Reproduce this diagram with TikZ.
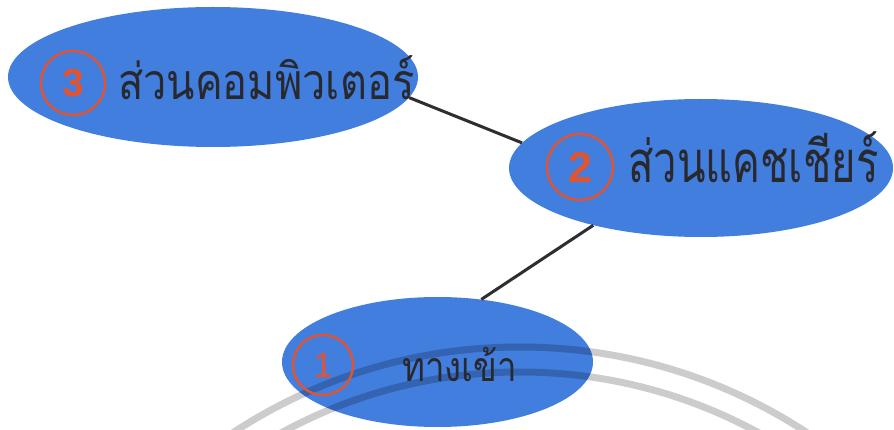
\documentclass[tikz,border=0pt]{standalone}
\usepackage{fontspec}
\usepackage{graphicx}
\newfontfamily\thaifont[Script=Thai]{Loma}
\newfontfamily\numfont{Liberation Sans}
\usetikzlibrary{shapes.geometric}
\definecolor{ellblue}{RGB}{66,126,222}
\definecolor{numred}{RGB}{226,84,48}
\definecolor{txtdark}{RGB}{40,40,45}
\definecolor{linedark}{RGB}{45,45,50}
\begin{document}
\begin{tikzpicture}[x=1pt,y=-1pt,
  blob/.style={ellipse, fill=ellblue, draw=none, inner sep=0pt},
  numcirc/.style={circle, draw=numred, line width=2.4pt, inner sep=0pt, text=numred},
  thaitext/.style={text=txtdark, inner sep=0pt, anchor=base west},
  link/.style={draw=linedark, line width=3pt},
  sealring/.style={draw=black, opacity=0.2, line width=7pt}]
\useasboundingbox[fill=white] (0,0) rectangle (894,430);
\node[blob, minimum width=410pt, minimum height=140pt] (e3) at (213,77) {};
\node[blob, minimum width=384pt, minimum height=138pt] (e2) at (701,168) {};
\node[blob, minimum width=311pt, minimum height=130pt] (e1) at (437.5,362) {};
\draw[link] (e3.-6) -- (e2.172);
\draw[link] (e2.208.7) -- (e1.55.6);
\coordinate (seal) at (520,870);
\begin{scope}
  \clip (0,0) rectangle (894,430);
  \draw[sealring] (seal) circle[radius=523pt];
  \draw[sealring] (seal) circle[radius=498pt];
\end{scope}
\node[numcirc, minimum size=64pt, font=\numfont\bfseries\fontsize{39}{39}\selectfont] (n3) at (73,83) {3};
\node[numcirc, minimum size=66pt, font=\numfont\bfseries\fontsize{43}{43}\selectfont] (n2) at (580,167) {2};
\node[numcirc, minimum size=60pt, font=\numfont\fontsize{35}{35}\selectfont] (n1) at (323,365) {1};
\node[thaitext, font=\thaifont\fontsize{50}{50}\selectfont] (t3) at (118,100) {\scalebox{0.83}[1]{ส่วนคอมพิวเตอร์}};
\node[thaitext, font=\thaifont\fontsize{58}{58}\selectfont] (t2) at (628,183) {\scalebox{0.72}[1]{ส่วนแคชเชียร์}};
\node[thaitext, font=\thaifont\fontsize{41}{41}\selectfont] (t1) at (402,381) {\scalebox{0.85}[1]{ทางเข้า}};
\end{tikzpicture}
\end{document}
